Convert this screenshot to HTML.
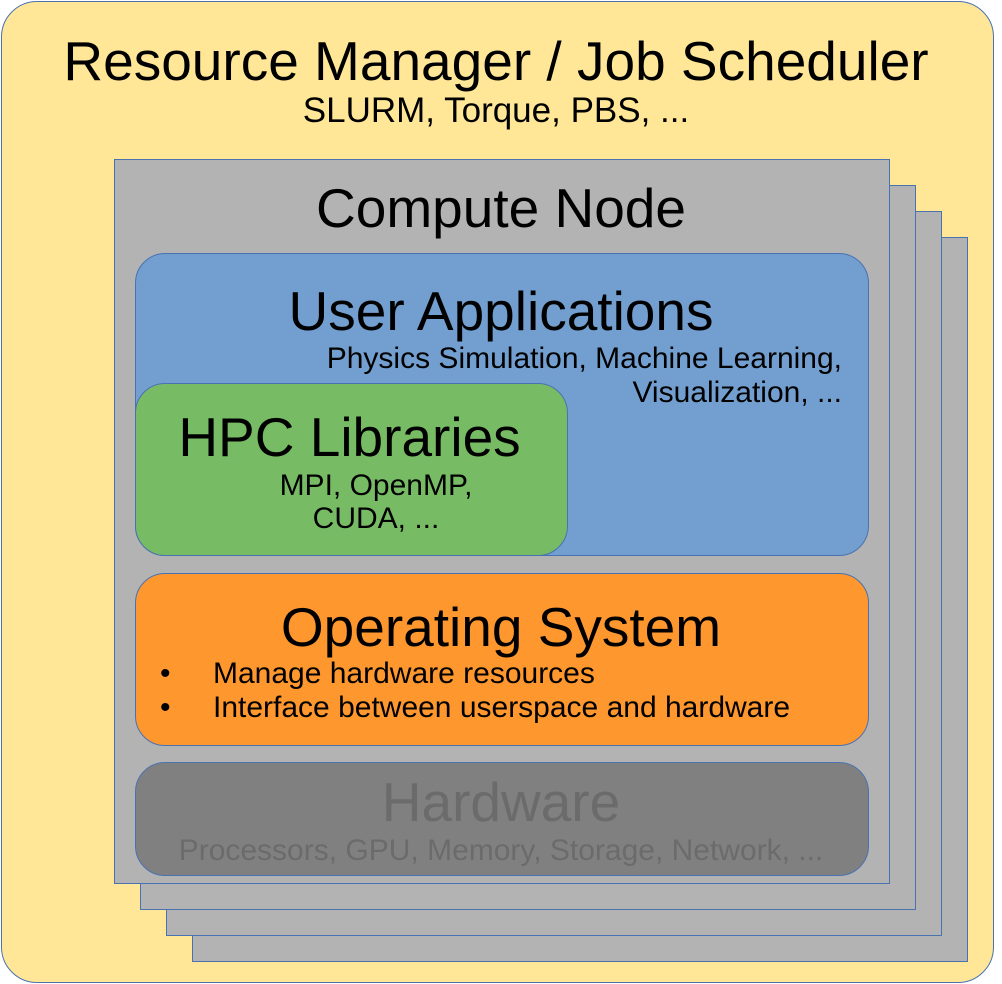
<!DOCTYPE html>
<html><head><meta charset="utf-8"><style>
body{margin:0;width:1002px;height:984px;background:#fff;position:relative;font-family:"Liberation Sans",sans-serif;overflow:hidden}
div{position:absolute;box-sizing:border-box}
.b{border:1.5px solid #4a72b0}
.t{white-space:nowrap;line-height:1;color:#000}
.c{left:0;width:1002px;text-align:center}
</style></head><body>
<div class="b" style="left:1px;top:1px;width:993px;height:982px;background:#ffe797;border-radius:36px"></div>
<div class="b" style="left:192px;top:237px;width:776px;height:725px;background:#b3b3b3"></div>
<div class="b" style="left:166px;top:211px;width:776px;height:725px;background:#b3b3b3"></div>
<div class="b" style="left:140px;top:185px;width:776px;height:725px;background:#b3b3b3"></div>
<div class="b" style="left:114px;top:159px;width:776px;height:725px;background:#b3b3b3"></div>
<div class="b" style="left:135px;top:253px;width:734px;height:303px;background:#729fcf;border-radius:30px"></div>
<div class="b" style="left:135px;top:383px;width:433px;height:173px;background:#77bc65;border-radius:30px"></div>
<div class="b" style="left:135px;top:573px;width:734px;height:173px;background:#ff972f;border-radius:30px"></div>
<div class="b" style="left:135px;top:762px;width:734px;height:114px;background:#808080;border-radius:30px"></div>

<div class="t c" style="top:34px;font-size:55px;left:-5px">Resource Manager / Job Scheduler</div>
<div class="t c" style="top:93px;font-size:36px;left:-5px;font-size:35px">SLURM, Torque, PBS, ...</div>
<div class="t c" style="top:181px;font-size:55px">Compute Node</div>
<div class="t c" style="top:284px;font-size:55px">User Applications</div>
<div class="t" style="top:344px;font-size:30px;right:160px;text-align:right">Physics Simulation, Machine Learning,</div>
<div class="t" style="top:378px;font-size:30px;right:160px;text-align:right">Visualization, ...</div>
<div class="t" style="top:410px;font-size:55px;left:133px;width:433px;text-align:center">HPC Libraries</div>
<div class="t" style="top:471px;font-size:30px;left:276px;width:200px;text-align:center">MPI, OpenMP,</div>
<div class="t" style="top:504px;font-size:30px;left:276px;width:200px;text-align:center">CUDA, ...</div>
<div class="t c" style="top:600px;font-size:55px">Operating System</div>
<div class="t" style="top:659px;font-size:30px;left:160px">•</div>
<div class="t" style="top:659px;font-size:30px;left:213px">Manage hardware resources</div>
<div class="t" style="top:693px;font-size:30px;left:160px">•</div>
<div class="t" style="top:693px;font-size:30px;left:213px">Interface between userspace and hardware</div>
<div class="t c" style="top:775px;font-size:55px;color:#6b6b6b">Hardware</div>
<div class="t c" style="top:836px;font-size:30px;color:#6b6b6b">Processors, GPU, Memory, Storage, Network, ...</div>
</body></html>
